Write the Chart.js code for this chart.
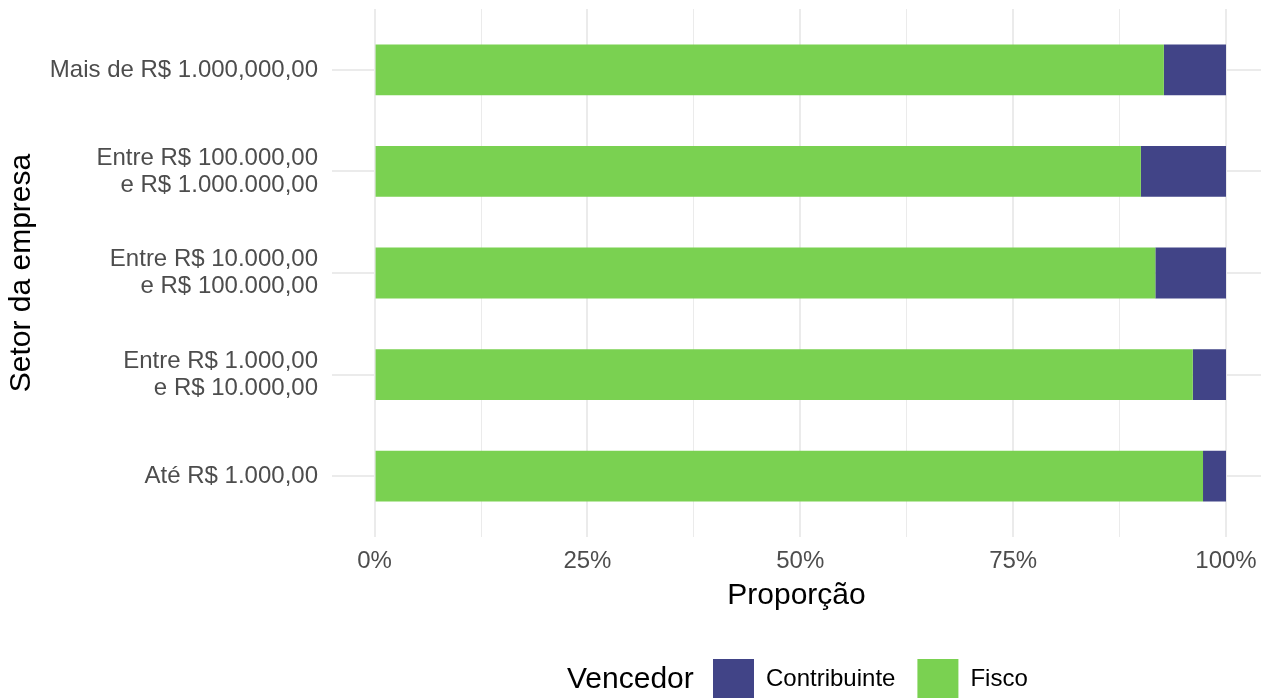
<!DOCTYPE html>
<html>
<head>
<meta charset="utf-8">
<script src="https://cdn.jsdelivr.net/npm/chart.js@4.4.1/dist/chart.umd.min.js"></script>
<style>
  body { margin: 0; background: #fff; }
  #wrap { width: 1261px; height: 698px; position: relative; }
</style>
</head>
<body>
<div id="wrap"><canvas id="myChart"></canvas></div>
<script>
// categories from bottom (1) to top (5)
const setores = [
    ['Até R$ 1.000,00'],
    ['Entre R$ 1.000,00', 'e R$ 10.000,00'],
    ['Entre R$ 10.000,00', 'e R$ 100.000,00'],
    ['Entre R$ 100.000,00', 'e R$ 1.000.000,00'],
    ['Mais de R$ 1.000,000,00']
];
const posicoes = [1, 2, 3, 4, 5];
const fisco = [0.973, 0.961, 0.917, 0.900, 0.927];
const contribuinte = [0.027, 0.039, 0.083, 0.100, 0.073];
const xTicks = [0, 0.125, 0.25, 0.375, 0.5, 0.625, 0.75, 0.875, 1];

const FONT = "'Liberation Sans', Arial, sans-serif";

// puts the legend title on the same row as the keys (ggplot style)
const legendRow = {
    id: 'legendRow',
    beforeDraw(chart) {
        const lg = chart.legend;
        const pad = lg.options.labels.padding;
        lg.left = 713 - pad;
        lg.right = chart.width;
        lg.top = 659 - pad;
        lg.bottom = chart.height;
    },
    afterDraw(chart) {
        const ctx = chart.ctx;
        ctx.save();
        ctx.font = '30px ' + FONT;
        ctx.fillStyle = '#000000';
        ctx.textBaseline = 'middle';
        ctx.textAlign = 'left';
        ctx.fillText('Vencedor', 567, 680);
        ctx.restore();
    }
};

const ctx = document.getElementById('myChart').getContext('2d');
new Chart(ctx, {
    type: 'bar',
    data: {
        datasets: [{
            label: 'Fisco',
            data: posicoes.map((p, i) => ({ x: fisco[i], y: p })),
            backgroundColor: '#7AD151',
            borderWidth: 0
        }, {
            label: 'Contribuinte',
            data: posicoes.map((p, i) => ({ x: contribuinte[i], y: p })),
            backgroundColor: '#414487',
            borderWidth: 0
        }]
    },
    options: {
        indexAxis: 'y',
        responsive: true,
        maintainAspectRatio: false,
        animation: false,
        categoryPercentage: 1,
        barPercentage: 0.5,
        layout: { padding: { top: 9, right: 0, left: 0, bottom: 12 } },
        plugins: {
            tooltip: { enabled: false },
            legend: {
                position: 'bottom',
                align: 'start',
                reverse: true,
                labels: {
                    boxWidth: 41,
                    boxHeight: 40,
                    padding: 22,
                    color: '#000000',
                    font: { family: FONT, size: 24 }
                }
            }
        },
        scales: {
            x: {
                type: 'linear',
                stacked: true,
                min: -0.05,
                max: 1.0411,
                offset: false,
                afterBuildTicks: axis => { axis.ticks = xTicks.map(v => ({ value: v })); },
                afterFit: scale => {
                    scale.height = 77;
                    scale.paddingLeft = 0;
                    scale.paddingRight = 0;
                },
                border: { display: false },
                grid: {
                    color: '#EBEBEB',
                    drawTicks: false,
                    offset: false,
                    lineWidth: c => (Math.round(c.tick.value * 1000) % 250 === 0 ? 2 : 1)
                },
                ticks: {
                    padding: 10,
                    color: '#4D4D4D',
                    font: { family: FONT, size: 24 },
                    maxRotation: 0,
                    autoSkip: false,
                    callback: v => (Math.round(v * 1000) % 250 === 0 ? Math.round(v * 100) + '%' : '')
                },
                title: {
                    display: true,
                    text: 'Proporção',
                    color: '#000000',
                    font: { family: FONT, size: 30 },
                    padding: 0
                }
            },
            y: {
                type: 'linear',
                stacked: true,
                min: 0.4,
                max: 5.6,
                offset: false,
                afterBuildTicks: axis => { axis.ticks = posicoes.map(v => ({ value: v })); },
                afterFit: scale => {
                    scale.width = 332;
                    scale.paddingTop = 0;
                    scale.paddingBottom = 0;
                },
                border: { display: false },
                grid: { color: '#EBEBEB', lineWidth: 2, drawTicks: false, offset: false },
                ticks: {
                    padding: 14,
                    color: '#4D4D4D',
                    font: { family: FONT, size: 24, lineHeight: 1.125 },
                    autoSkip: false,
                    callback: v => setores[v - 1]
                },
                title: {
                    display: true,
                    text: 'Setor da empresa',
                    color: '#000000',
                    font: { family: FONT, size: 30 },
                    padding: { top: 4, bottom: 0 }
                }
            }
        }
    },
    plugins: [legendRow]
});
</script>
</body>
</html>
